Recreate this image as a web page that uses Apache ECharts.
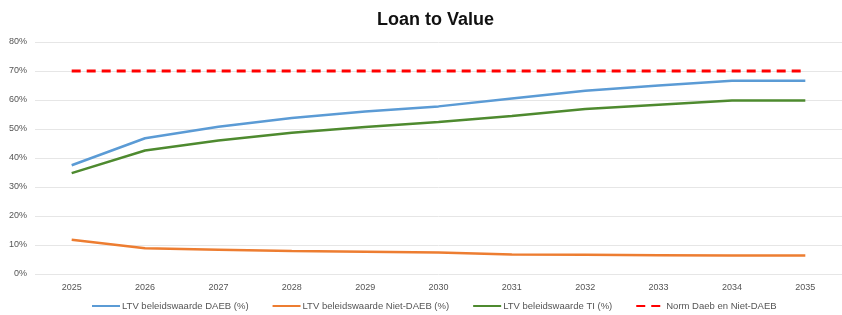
<!DOCTYPE html>
<html>
<head>
<meta charset="utf-8">
<title>Loan to Value</title>
<style>
  html, body { margin: 0; padding: 0; background: #fff; }
  #chart { width: 842px; height: 315px; }
</style>
</head>
<body>
<div id="chart"></div>
<script src="https://cdn.jsdelivr.net/npm/echarts@6/dist/echarts.min.js"></script>
<script>
var years = ['2025', '2026', '2027', '2028', '2029', '2030', '2031', '2032', '2033', '2034', '2035'];
var ltvDaeb = [37.5, 46.8, 50.8, 53.8, 56.0, 57.8, 60.5, 63.2, 65.0, 66.6, 66.6];
var ltvNietDaeb = [11.8, 8.9, 8.4, 7.9, 7.7, 7.4, 6.7, 6.6, 6.5, 6.4, 6.4];
var ltvTi = [34.8, 42.6, 46.0, 48.7, 50.7, 52.4, 54.5, 56.9, 58.4, 59.8, 59.8];
var normDaeb = [70, 70, 70, 70, 70, 70, 70, 70, 70, 70, 70];
var seriesNames = ['LTV beleidswaarde DAEB (%)', 'LTV beleidswaarde Niet-DAEB (%)', 'LTV beleidswaarde TI (%)', 'Norm Daeb en Niet-DAEB'];

var myChart = echarts.init(document.getElementById('chart'));
var font = 'Liberation Sans, Arial, sans-serif';

var option = {
    animation: false,
    backgroundColor: '#fff',
    title: {
        text: 'Loan to Value',
        left: 372,
        top: 6,
        textStyle: { fontFamily: font, fontSize: 18, fontWeight: 'bold', color: '#111' }
    },
    legend: {
        bottom: -1,
        left: 86,
        itemWidth: 28,
        itemHeight: 8,
        itemGap: 23,
        itemStyle: { opacity: 0 },
        textStyle: { fontFamily: font, fontSize: 9.5, color: '#555', padding: [0, 0, 0, -3] },
        data: seriesNames
    },
    grid: { left: 35, right: -9, top: 42, bottom: 41 },
    xAxis: {
        type: 'category',
        data: years,
        boundaryGap: true,
        axisLine: { show: false },
        axisTick: { show: false },
        axisLabel: { fontFamily: font, fontSize: 9, color: '#555', margin: 9 }
    },
    yAxis: {
        type: 'value',
        min: 0,
        max: 80,
        interval: 10,
        axisLabel: { fontFamily: font, fontSize: 9, color: '#555', formatter: '{value}%', margin: 8 },
        splitLine: { lineStyle: { color: '#e6e6e6', width: 1 } }
    },
    series: [
        {
            name: seriesNames[0], type: 'line', data: ltvDaeb, symbol: 'none',
            lineStyle: { color: '#5b9bd5', width: 2.5 }, itemStyle: { color: '#5b9bd5' }
        },
        {
            name: seriesNames[1], type: 'line', data: ltvNietDaeb, symbol: 'none',
            lineStyle: { color: '#ed7d31', width: 2.5 }, itemStyle: { color: '#ed7d31' }
        },
        {
            name: seriesNames[2], type: 'line', data: ltvTi, symbol: 'none',
            lineStyle: { color: '#4e8a2f', width: 2.5 }, itemStyle: { color: '#4e8a2f' }
        },
        {
            name: seriesNames[3], type: 'line', data: normDaeb, symbol: 'none',
            lineStyle: { color: '#ff0000', width: 3, type: [9, 6] }, itemStyle: { color: '#ff0000' }
        }
    ]
};
myChart.setOption(option);
</script>
</body>
</html>
